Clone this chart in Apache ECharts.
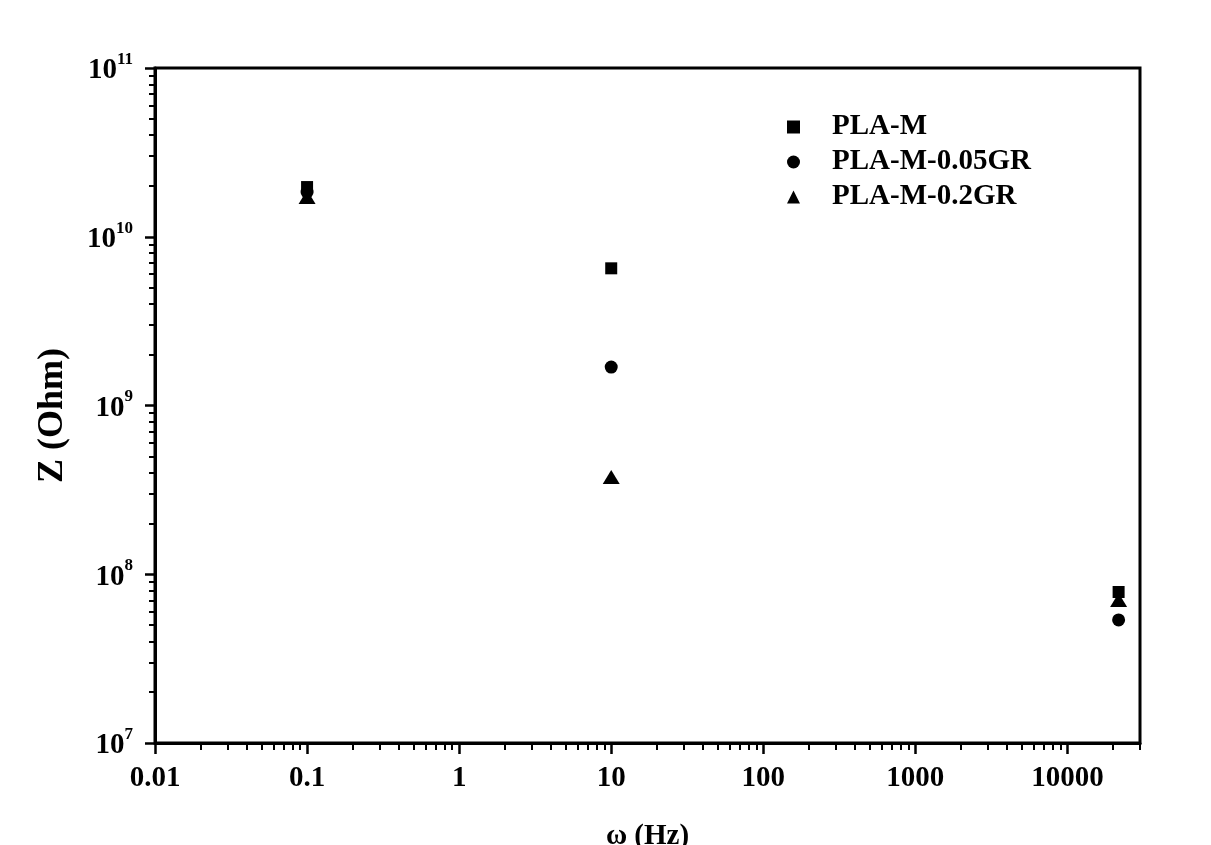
<!DOCTYPE html>
<html>
<head>
<meta charset="utf-8">
<script src="https://cdn.jsdelivr.net/npm/echarts@6/dist/echarts.min.js"></script>
<style>
html,body{margin:0;padding:0;background:#fff;}
#chart{width:1211px;height:845px;}
</style>
</head>
<body>
<div id="chart"></div>
<script>
// ---- data ----
const seriesNames = ['PLA-M', 'PLA-M-0.05GR', 'PLA-M-0.2GR'];
const freqHz = [0.1, 10, 21700];
const zPLAM = [1.97e10, 6.5e9, 7.85e7];
const zPLAM005GR = [1.84e10, 1.69e9, 5.36e7];
const zPLAM02GR = [1.72e10, 3.77e8, 7.04e7];
const xTickValues = [0.01, 0.1, 1, 10, 100, 1000, 10000];
const xTickLabels = ['0.01', '0.1', '1', '10', '100', '1000', '10000'];
const yTickValues = [1e7, 1e8, 1e9, 1e10, 1e11];
const yTickExponents = ['7', '8', '9', '10', '11'];

// minor tick positions (2..9 within each decade)
const xMinor = [];
for (let e = -2; e <= 4; e++) for (let m = 2; m <= 9; m++) { const v = m * Math.pow(10, e); if (v <= 30000) xMinor.push(v); }
const yMinor = [];
for (let e = 7; e <= 10; e++) for (let m = 2; m <= 9; m++) yMinor.push(m * Math.pow(10, e));

const FONT = 'Liberation Serif';
const xMin = 0.01, xMax = 30000, yMin = 1e7, yMax = 1e11;

const chart = echarts.init(document.getElementById('chart'), null, {renderer: 'canvas'});
const symbols = ['rect', 'circle', 'triangle'];
const sizes = [12, 13, [17, 14]];
const values = [zPLAM, zPLAM005GR, zPLAM02GR];

const option = {
  backgroundColor: '#fff',
  animation: false,
  grid: {left: 155, right: 71, top: 68, bottom: 102, outerBoundsMode: 'none', containLabel: false,
    show: true, borderColor: '#000', borderWidth: 3, backgroundColor: 'transparent'},
  legend: {
    orient: 'vertical', left: 782, top: 106,
    itemWidth: 13, itemHeight: 13, itemGap: 3,
    data: seriesNames.map((n, i) => ({name: n, icon: symbols[i]})),
    textStyle: {fontFamily: FONT, fontWeight: 'bold', fontSize: 29, color: '#000', lineHeight: 32, padding: [0, 0, 0, 27]},
    itemStyle: {color: '#000'}
  },
  xAxis: [{
    type: 'log', logBase: 10, min: xMin, max: xMax,
    name: 'ω (Hz)', nameLocation: 'middle', nameGap: 79,
    nameTextStyle: {fontFamily: FONT, fontWeight: 'bold', fontSize: 29, color: '#000'},
    axisLine: {show: true, lineStyle: {color: '#000', width: 3}},
    axisTick: {show: true, inside: false, length: 11, lineStyle: {color: '#000', width: 2.5}, customValues: xTickValues},
    axisLabel: {show: true, margin: 21, fontFamily: FONT, fontWeight: 'bold', fontSize: 29, color: '#000',
      customValues: xTickValues,
      formatter: function (v) { const i = xTickValues.findIndex(t => Math.abs(Math.log10(t) - Math.log10(v)) < 1e-6); return i >= 0 ? xTickLabels[i] : ''; }},
    splitLine: {show: false}
  }, {
    type: 'log', logBase: 10, min: xMin, max: xMax, position: 'bottom',
    axisLine: {show: false},
    axisTick: {show: true, inside: false, length: 7, lineStyle: {color: '#000', width: 2}, customValues: xMinor},
    axisLabel: {show: false},
    splitLine: {show: false}
  }],
  yAxis: [{
    type: 'log', logBase: 10, min: yMin, max: yMax,
    name: 'Z (Ohm)', nameLocation: 'middle', nameGap: 84, nameRotate: 90,
    nameTextStyle: {fontFamily: FONT, fontWeight: 'bold', fontSize: 36, color: '#000', padding: [0, 20, 0, 0]},
    axisLine: {show: true, lineStyle: {color: '#000', width: 3}},
    axisTick: {show: true, inside: false, length: 10, lineStyle: {color: '#000', width: 2.5}, customValues: yTickValues},
    axisLabel: {show: true, margin: 22, customValues: yTickValues,
      formatter: function (v) { const i = yTickValues.findIndex(t => Math.abs(Math.log10(t) - Math.log10(v)) < 1e-6); return i >= 0 ? '{b|10}{s|' + yTickExponents[i] + '}' : ''; },
      rich: {
        b: {fontFamily: FONT, fontWeight: 'bold', fontSize: 29, color: '#000', lineHeight: 46, padding: [6, 0, 0, 0]},
        s: {fontFamily: FONT, fontWeight: 'bold', fontSize: 17, color: '#000', verticalAlign: 'top', lineHeight: 17, padding: [6, 0, 0, 0]}
      }},
    splitLine: {show: false}
  }, {
    type: 'log', logBase: 10, min: yMin, max: yMax, position: 'left',
    axisLine: {show: false},
    axisTick: {show: true, inside: false, length: 6, lineStyle: {color: '#000', width: 2}, customValues: yMinor},
    axisLabel: {show: false},
    splitLine: {show: false}
  }],
  series: seriesNames.map((n, i) => ({
    name: n, type: 'scatter', xAxisIndex: 0, yAxisIndex: 0,
    symbol: symbols[i], symbolSize: sizes[i],
    itemStyle: {color: '#000', opacity: 1},
    data: freqHz.map((f, j) => [f, values[i][j]])
  }))
};
chart.setOption(option);
</script>
</body>
</html>
